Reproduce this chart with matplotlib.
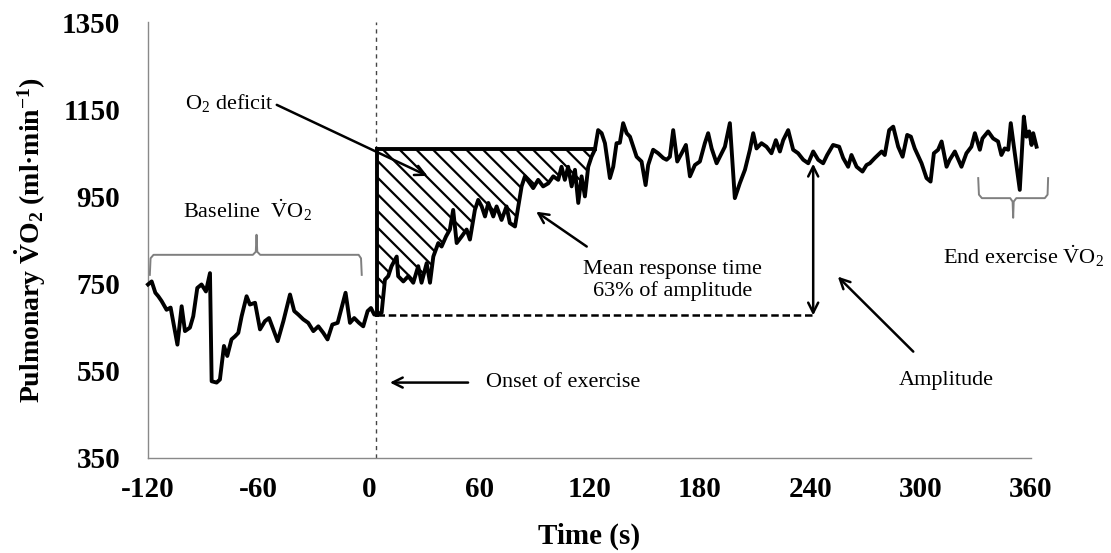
import matplotlib
matplotlib.use("Agg")
import matplotlib.pyplot as plt
import numpy as np

# breath-by-breath VO2 (time in s, VO2 in ml/min)
baseline_t = [-120, -118, -116, -114.4, -112.6, -109.9, -107.7, -106.2, -104, -101.7,
              -99.9, -97.2, -95.4, -93.2, -90.9, -88.5, -86.3, -85.4, -82.7, -80.9,
              -78.7, -76.9, -74.6, -72.7, -70.9, -69.1, -66.4, -64.6, -61.8, -59.1,
              -56.4, -54.2, -51.9, -49.5, -46.4, -42.8, -40.5, -38.3, -35.6, -32.9,
              -30.1, -27.4, -24.7, -22.4, -19.8, -16.9, -12.6, -10.2, -7.9, -5.3,
              -3.0, -0.6, 1.2, 3.0]
baseline_v = [748, 755, 729, 721, 710, 690, 695, 660, 610, 698,
              641, 649, 675, 740, 748, 732, 774, 526, 523, 530,
              607, 584, 622, 629, 637, 675, 721, 702, 706, 645,
              664, 671, 645, 618, 664, 725, 687, 679, 668, 660,
              641, 652, 637, 622, 656, 660, 729, 660, 671, 660,
              652, 687, 694, 679]

transition_t = [4.3, 7.0, 8.8, 10.6, 12.4, 15.2, 16.0, 18.8, 21.5, 24.2,
                26.9, 28.7, 31.5, 33.3, 35.1, 37.8, 39.6, 42.0, 44.1, 45.9,
                47.8, 50.5, 53.2, 55.0, 57.7, 59.5, 61.4, 63.2, 65.0, 67.7,
                69.5, 72.2, 74.9, 76.7, 79.5, 81.3, 83.1, 84.9, 87.6, 89.4,
                92.1, 94.8, 97.6, 100.3, 103.0, 104.8, 106.6, 108.4, 110.3, 112.1,
                113.9, 115.7, 117.5, 119.3, 121.1, 122.9]
transition_v = [679, 683, 759, 767, 790, 812, 767, 755, 767, 752,
                790, 752, 797, 752, 812, 843, 835, 858, 874, 919,
                843, 858, 874, 851, 919, 942, 927, 904, 935, 904,
                927, 896, 927, 889, 881, 927, 973, 996, 980, 969,
                988, 973, 980, 996, 988, 1018, 988, 1018, 973, 1011,
                935, 996, 950, 1018, 1041, 1057]

steady_t = [124.7, 126.6, 128.4, 131.1, 132.9, 134.7, 136.5, 138.3, 140.2, 142.0,
            143.8, 145.6, 148.3, 150.5, 151.9, 154.6, 157.3, 160.1, 161.9, 163.7,
            165.5, 167.7, 170.1, 172.4, 174.6, 177.3, 180.0, 182.7, 184.5, 186.4,
            189.1, 190.9, 193.6, 196.3, 199.0, 201.7, 204.5, 207.2, 209.0, 210.8,
            213.5, 216.2, 218.9, 221.3, 223.5, 225.3, 228.0, 230.7, 233.4, 236.2,
            238.9, 241.6, 244.3, 247.0, 249.2, 252.4, 255.7, 257.9, 260.6, 262.4,
            265.2, 268.4, 270.6, 272.4, 275.1, 278.8, 280.5, 282.9, 285.1, 287.8,
            290.2, 292.7, 294.7, 296.8, 300.5, 303.2, 305.4, 307.2, 309.5, 311.4,
            314.1, 315.8, 318.6, 322.2, 324.9, 327.6, 329.5, 332.2, 333.6, 336.7,
            339.4, 342.1, 343.9, 345.7, 347.6, 349.0, 350.7, 353.9, 356.1, 357.5,
            359.0, 360.3, 361.2, 363.0]
steady_v = [1102, 1095, 1072, 992, 1018, 1072, 1073, 1118, 1095, 1087,
            1064, 1041, 1030, 976, 1022, 1057, 1049, 1038, 1034, 1041,
            1102, 1030, 1049, 1068, 996, 1022, 1030, 1072, 1095, 1060,
            1026, 1041, 1064, 1118, 946, 980, 1011, 1057, 1095, 1060,
            1072, 1064, 1049, 1079, 1053, 1079, 1102, 1057, 1049, 1034,
            1026, 1053, 1034, 1026, 1045, 1068, 1064, 1038, 1018, 1045,
            1018, 1007, 1022, 1026, 1038, 1053, 1045, 1102, 1110, 1064,
            1041, 1091, 1087, 1060, 1026, 992, 984, 1049, 1057, 1076,
            1018, 1034, 1053, 1018, 1049, 1064, 1095, 1057, 1083, 1099,
            1083, 1076, 1045, 1060, 1057, 1118, 1064, 965, 1133, 1087,
            1099, 1068, 1095, 1064]

x_ticks = [-120, -60, 0, 60, 120, 180, 240, 300, 360]
y_ticks = [350, 550, 750, 950, 1150, 1350]

onset_t = 4.0
baseline_mean = 677
deficit_top = 1058
mrt_t = 241.6
amplitude_top = 1025

plt.rcParams['font.family'] = 'Liberation Serif'
plt.rcParams['mathtext.fontset'] = 'custom'
plt.rcParams['mathtext.rm'] = 'Liberation Serif'
plt.rcParams['mathtext.it'] = 'Liberation Serif:italic'
plt.rcParams['mathtext.bf'] = 'Liberation Serif:bold'
plt.rcParams['axes.unicode_minus'] = False
plt.rcParams['hatch.linewidth'] = 1.6

time = np.array(baseline_t + transition_t + steady_t)
vo2 = np.array(baseline_v + transition_v + steady_v)

fig = plt.figure(figsize=(11.11, 5.53), dpi=100)
ax = fig.add_axes([0.1332, 0.1718, 0.7948, 0.7884])

# O2 deficit area (hatched)
ax.fill_between(transition_t, transition_v, deficit_top, facecolor='white',
                edgecolor='black', hatch='\\\\', linewidth=0, zorder=1)
ax.plot([onset_t + 0.3, transition_t[-1]], [deficit_top, deficit_top], color='black', lw=2.8, zorder=3)
ax.plot([onset_t + 0.3, onset_t + 0.3], [transition_v[0], deficit_top], color='black', lw=2.8, zorder=3)

ax.plot(time, vo2, color='black', lw=2.8, zorder=4, clip_on=False)

# onset line, baseline level, amplitude
ax.axvline(onset_t, color='#444444', lw=1, ls=(0, (3, 3)), zorder=2)
ax.plot([onset_t + 0.3, mrt_t], [baseline_mean, baseline_mean], color='black', lw=1.8,
        ls=(0, (3, 1.5)), zorder=2)
ax.annotate('', xy=(mrt_t, amplitude_top), xytext=(mrt_t, baseline_mean),
            arrowprops=dict(arrowstyle='<->', lw=1.8, color='black', shrinkA=0, shrinkB=0,
                            mutation_scale=18))

arrow_kw = dict(arrowstyle='->', lw=1.8, color='black', shrinkA=0, shrinkB=0, mutation_scale=18)
txt_size = 16

ax.text(-76, 1164, r'O$_2$ deficit', ha='center', va='center', fontsize=txt_size)
ax.annotate('', xy=(32, 997), xytext=(-50, 1160), arrowprops=arrow_kw)

ax.text(-66, 919, r'Baseline  $\dot{\mathrm{V}}\mathrm{O}_2$', ha='center', va='center', fontsize=txt_size)
ax.text(165, 757, 'Mean response time\n63% of amplitude', ha='center', va='center',
        fontsize=txt_size, linespacing=1.2)
ax.annotate('', xy=(91, 915), xytext=(118.5, 835), arrowprops=arrow_kw)

ax.text(64, 523, 'Onset of exercise', ha='left', va='center', fontsize=txt_size)
ax.annotate('', xy=(11.5, 523), xytext=(54, 523), arrowprops=arrow_kw)

ax.text(314, 528, 'Amplitude', ha='center', va='center', fontsize=txt_size)
ax.annotate('', xy=(255, 766), xytext=(296, 594), arrowprops=arrow_kw)

ax.text(356, 814, r'End exercise $\dot{\mathrm{V}}\mathrm{O}_2$', ha='center', va='center',
        fontsize=txt_size, clip_on=False)

# curly braces
brace_col = '#7f7f7f'
ax.plot([-119, -118.6, -117, -63, -61.4, -61, -60.6, -59, -5.5, -4.2, -3.8],
        [770, 808, 816, 816, 823, 862, 823, 816, 816, 808, 770], color=brace_col, lw=1.4)
ax.plot([331.3, 331.7, 333.3, 348.7, 350, 350.3, 350.6, 352, 367.5, 369, 369.3],
        [992, 954, 946, 946, 938, 901, 938, 946, 946, 954, 992], color=brace_col, lw=1.4,
        clip_on=False)

ax.set_xlim(-120, 360)
ax.set_ylim(350, 1350)
ax.set_xticks(x_ticks)
ax.set_yticks(y_ticks)
ax.tick_params(length=0, labelsize=21, pad=13)
ax.tick_params(axis='y', pad=20)
for lab in ax.get_xticklabels() + ax.get_yticklabels():
    lab.set_fontweight('bold')
for side in ['top', 'right']:
    ax.spines[side].set_visible(False)
for side in ['left', 'bottom']:
    ax.spines[side].set_color('#898989')
    ax.spines[side].set_linewidth(1)

ax.set_xlabel('Time (s)', fontsize=21, fontweight='bold', labelpad=14)
ax.set_ylabel(r'Pulmonary $\mathbf{\dot{V}O_2}$ (ml·min$^{\mathbf{-1}}$)', fontsize=20,
              fontweight='bold', labelpad=10)

fig.savefig('out.png', dpi=100)
plt.close(fig)
